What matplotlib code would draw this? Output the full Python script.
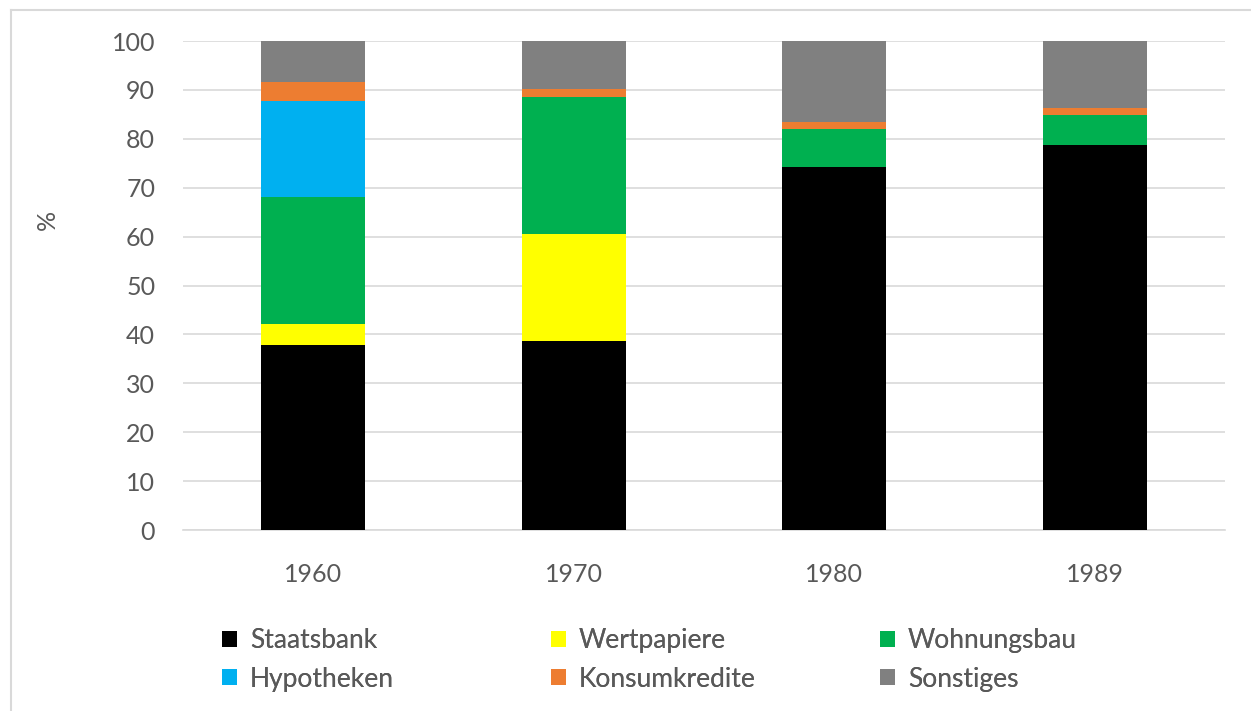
import matplotlib.pyplot as plt
import numpy as np
from matplotlib.lines import Line2D

years = ['1960', '1970', '1980', '1989']
staatsbank = [37.9, 38.6, 74.3, 78.8]
wertpapiere = [4.2, 21.9, 0.0, 0.0]
wohnungsbau = [25.9, 28.0, 7.7, 6.1]
hypotheken = [19.7, 0.0, 0.0, 0.0]
konsumkredite = [4.0, 1.6, 1.4, 1.5]
sonstiges = [8.3, 9.9, 16.6, 13.6]

series = [
    ('Staatsbank', staatsbank, '#000000'),
    ('Wertpapiere', wertpapiere, '#FFFF00'),
    ('Wohnungsbau', wohnungsbau, '#00B050'),
    ('Hypotheken', hypotheken, '#00B0F0'),
    ('Konsumkredite', konsumkredite, '#ED7D31'),
    ('Sonstiges', sonstiges, '#808080'),
]

plt.rcParams['font.family'] = ['Lato', 'DejaVu Sans']
textColor = '#595959'

fig = plt.figure(figsize=(12.51, 7.11), dpi=100)
ax = fig.add_axes([183 / 1251, 1 - 530 / 711, (1225 - 183) / 1251, (530 - 41) / 711])

x = np.arange(len(years))
bottom = np.zeros(len(years))
handles = []
for name, vals, color in series:
    vals = np.array(vals)
    b = ax.bar(x, vals, width=0.4, bottom=bottom, color=color, label=name, zorder=3)
    handles.append(b)
    bottom += vals

ax.set_xlim(-0.5, 3.5)
ax.set_ylim(0, 100)
ax.set_yticks(range(0, 101, 10))
ax.set_xticks(x)
ax.set_xticklabels(years)
ax.tick_params(axis='both', length=0, labelsize=18, labelcolor=textColor)
ax.tick_params(axis='y', pad=20)
ax.tick_params(axis='x', pad=24)
ax.grid(axis='y', color='#D9D9D9', linewidth=1.2, zorder=0)
for s in ['top', 'right', 'left']:
    ax.spines[s].set_visible(False)
ax.spines['bottom'].set_color('#D9D9D9')
ax.spines['bottom'].set_linewidth(1.2)

fig.text(47 / 1251, 1 - 220 / 711, '%', rotation=90, fontsize=18, color=textColor,
         ha='center', va='center')

# one legend per column so the columns sit at fixed positions
colX = [222, 551, 880]
for c in range(3):
    idx = [c, c + 3]
    leg = fig.legend(handles=[handles[i] for i in idx],
                     labels=[series[i][0] for i in idx], ncol=1,
                     loc='center left', bbox_to_anchor=(colX[c] / 1251, 1 - 660 / 711),
                     frameon=False, fontsize=19, labelcolor=textColor,
                     handlelength=0.55, handleheight=0.55, handletextpad=0.5,
                     labelspacing=0.5, borderpad=0, borderaxespad=0)
    fig.add_artist(leg)

fig.add_artist(Line2D([11 / 1251, 11 / 1251], [0, 1 - 10 / 711], transform=fig.transFigure,
                      color='#D9D9D9', linewidth=1.5))
fig.add_artist(Line2D([11 / 1251, 1], [1 - 10 / 711, 1 - 10 / 711], transform=fig.transFigure,
                      color='#D9D9D9', linewidth=1.5))

fig.savefig('out.png', dpi=100)
